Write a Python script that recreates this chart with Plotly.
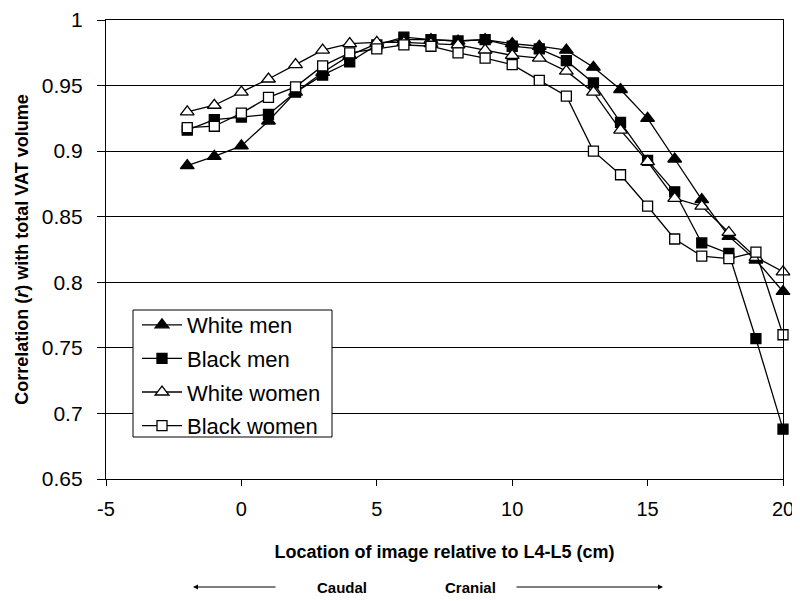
import plotly.graph_objects as go

x_cm = list(range(-2, 21))

white_men = [0.889, 0.896, 0.904, 0.923, 0.945, 0.960, 0.973, 0.982, 0.985, 0.985, 0.984, 0.985,
             0.982, 0.980, 0.977, 0.964, 0.947, 0.925, 0.894, 0.863, 0.835, 0.817, 0.793]
black_men = [0.916, 0.924, 0.926, 0.928, 0.945, 0.958, 0.968, 0.981, 0.987, 0.985, 0.984, 0.985,
             0.980, 0.978, 0.969, 0.952, 0.922, 0.893, 0.869, 0.830, 0.822, 0.757, 0.688]
white_women = [0.930, 0.935, 0.945, 0.955, 0.966, 0.977, 0.982, 0.983, 0.983, 0.982, 0.981, 0.977,
               0.973, 0.971, 0.961, 0.945, 0.916, 0.892, 0.864, 0.858, 0.838, 0.819, 0.808]
black_women = [0.918, 0.919, 0.929, 0.941, 0.949, 0.965, 0.975, 0.978, 0.981, 0.980, 0.975, 0.971,
               0.966, 0.954, 0.942, 0.900, 0.882, 0.858, 0.833, 0.820, 0.818, 0.823, 0.760]

x_ticks = [-5, 0, 5, 10, 15, 20]
x_tick_labels = ["-5", "0", "5", "10", "15", "20"]
y_ticks = [0.65, 0.7, 0.75, 0.8, 0.85, 0.9, 0.95, 1]
y_tick_labels = ["0.65", "0.7", "0.75", "0.8", "0.85", "0.9", "0.95", "1"]

FONT = "Liberation Sans, Arial, sans-serif"

series = [
    ("White men", white_men, "triangle-up", "black", 12),
    ("Black men", black_men, "square", "black", 10),
    ("White women", white_women, "triangle-up", "white", 12),
    ("Black women", black_women, "square", "white", 10),
]

fig = go.Figure()
for name, vals, sym, fill, sz in series:
    fig.add_trace(go.Scatter(
        x=x_cm, y=vals, name=name, mode="lines+markers", legendgroup=name,
        cliponaxis=False,
        line=dict(color="black", width=1.3),
        marker=dict(symbol=sym, size=sz, color=fill, line=dict(color="black", width=1.3)),
    ))

# plot area in page pixels: x 106..783, y 20..479
PX0, PX1, PY0, PY1 = 106, 783, 20, 479
def px(xp):
    return (xp - PX0) / (PX1 - PX0)
def py(yp):
    return (PY1 - yp) / (PY1 - PY0)

fig.update_layout(
    template="none",
    width=792, height=593,
    margin=dict(l=98, r=17, t=12, b=122),
    paper_bgcolor="white", plot_bgcolor="white",
    font=dict(family=FONT, color="black", size=20),
    showlegend=True,
    legend=dict(x=px(137), y=py(304), xanchor="left", yanchor="top",
                bgcolor="rgba(0,0,0,0)", borderwidth=0, itemwidth=40,
                font=dict(size=22, family=FONT), traceorder="grouped", tracegroupgap=2),
    xaxis=dict(range=[-5, 20], tickvals=x_ticks, ticktext=x_tick_labels, ticks="outside", ticklen=6,
               tickcolor="black", showline=True, linecolor="black", linewidth=1.3,
               mirror=True, showgrid=False, zeroline=False, automargin=False,
               tickfont=dict(size=20, family=FONT), ticklabelstandoff=6,
               title=dict(text="<b>Location of image relative to L4-L5 (cm)</b>",
                          font=dict(size=18, family=FONT), standoff=26)),
    yaxis=dict(range=[0.65, 1], tickvals=y_ticks, ticktext=y_tick_labels, ticks="outside",
               ticklen=8, tickcolor="black", showline=True, linecolor="black", linewidth=1.3,
               mirror=True, showgrid=True, gridcolor="black", gridwidth=1.3, zeroline=False,
               automargin=False,
               tickfont=dict(size=21, family=FONT), ticklabelstandoff=10,
               title=dict(text="<b>Correlation (<i>r</i>) with total VAT volume</b>",
                          font=dict(size=18, family=FONT), standoff=8)),
)

# legend frame
fig.add_shape(type="rect", xref="paper", yref="paper",
              x0=px(133), x1=px(332), y0=py(437), y1=py(310),
              fillcolor="white", line=dict(color="black", width=1), layer="above")

# Caudal / Cranial direction labels with arrows
yy = py(587)
fig.add_annotation(xref="paper", yref="paper", x=px(193), y=yy,
                   ax=84, ay=0, showarrow=True, arrowhead=2, arrowsize=1, arrowwidth=1,
                   arrowcolor="black", text="")
fig.add_annotation(xref="paper", yref="paper", x=px(663), y=yy,
                   ax=-148, ay=0, showarrow=True, arrowhead=2, arrowsize=1, arrowwidth=1,
                   arrowcolor="black", text="")
fig.add_annotation(xref="paper", yref="paper", x=px(315), y=yy, yanchor="middle",
                   text="<b>Caudal</b>", showarrow=False, font=dict(size=15, family=FONT))
fig.add_annotation(xref="paper", yref="paper", x=px(470), y=yy, yanchor="middle",
                   text="<b>Cranial</b>", showarrow=False, font=dict(size=15, family=FONT))

fig.write_html("out.html")
